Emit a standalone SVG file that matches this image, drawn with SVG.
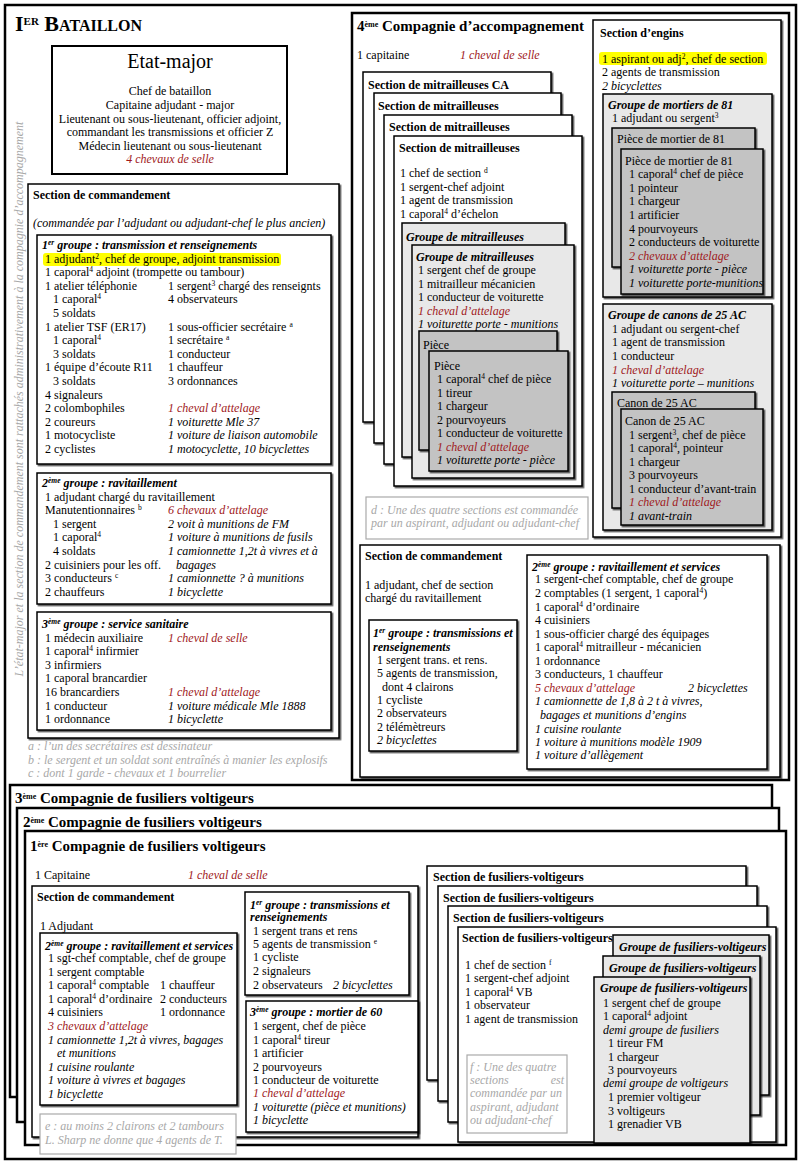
<svg xmlns="http://www.w3.org/2000/svg" width="800" height="1163" viewBox="0 0 800 1163">
<defs>
<filter id="sh" x="-5%" y="-5%" width="115%" height="115%"><feDropShadow dx="1.5" dy="1.5" stdDeviation="0.5" flood-color="#000" flood-opacity="0.65"/></filter>
<style>
text{font-family:"Liberation Serif","Times New Roman",serif;font-size:12px;fill:#000}
.i{font-style:italic}
.r{font-style:italic;fill:#a0191c}
.b{font-weight:bold}
.bi{font-weight:bold;font-style:italic}
.n{font-style:italic;fill:#a8a8a8}
.s{font-size:7.5px;baseline-shift:super}
.h16{font-size:15px;font-weight:bold}
.box{fill:#fff;stroke:#000;stroke-width:1.5;filter:url(#sh)}
.lg{fill:#e8e8e8;stroke:#000;stroke-width:1.5;filter:url(#sh)}
.dg{fill:#c3c3c3;stroke:#000;stroke-width:1.5;filter:url(#sh)}
.big{fill:#fff;stroke:#000;stroke-width:2.5}
.note{fill:#fff;stroke:#aaa;stroke-width:1.2}
.hl{fill:#ffff00}
</style>
</defs>
<rect width="800" height="1163" fill="#fff"/>

<g id="bataillon">
<rect class="big" x="5" y="5" width="791" height="1154"/>
<text x="15" y="31" class="b" style="font-size:22px">I<tspan style="font-size:11px" baseline-shift="super">ER</tspan> B<tspan style="font-size:16px">ATAILLON</tspan></text>
<text class="n" transform="translate(23,399) rotate(-90)" text-anchor="middle">L’état-major et la section de commandement sont rattachés administrativement à la compagnie d’accompagnement</text>
</g>

<g id="etat-major">
<rect x="52" y="46" width="235" height="128" fill="#fff" stroke="#000" stroke-width="2"/>
<g text-anchor="middle">
<text x="170" y="68" style="font-size:20px">Etat-major</text>
<text x="170" y="95">Chef de bataillon</text>
<text x="170" y="109">Capitaine adjudant - major</text>
<text x="170" y="123">Lieutenant ou sous-lieutenant, officier adjoint,</text>
<text x="170" y="136">commandant les transmissions et officier Z</text>
<text x="170" y="150">Médecin lieutenant ou sous-lieutenant</text>
<text x="170" y="163" class="r">4 chevaux de selle</text>
</g>
</g>

<g id="section-commandement-bat">
<rect class="box" x="28" y="184" width="311" height="554"/>
<text x="33" y="199" class="b">Section de commandement</text>
<text x="33" y="227" class="i">(commandée par l’adjudant ou adjudant-chef le plus ancien)</text>
</g>

<g id="groupe1-transmission">
<rect class="box" x="37" y="235" width="294" height="229"/>
<rect class="hl" x="43" y="253" width="238" height="13" rx="3"/>
<text x="42" y="249" class="bi">1<tspan class="s">er</tspan> groupe : transmission et renseignements</text>
<text x="45" y="263">1 adjudant<tspan class="s">2</tspan>, chef de groupe, adjoint transmission</text>
<text x="45" y="276">1 caporal<tspan class="s">4</tspan> adjoint (trompette ou tambour)</text>
<text x="45" y="290">1 atelier téléphonie</text><text x="168" y="290">1 sergent<tspan class="s">3</tspan> chargé des renseignts</text>
<text x="53" y="303">1 caporal<tspan class="s">4</tspan></text><text x="168" y="303">4 observateurs</text>
<text x="53" y="317">5 soldats</text>
<text x="45" y="331">1 atelier TSF (ER17)</text><text x="168" y="331">1 sous-officier secrétaire <tspan class="s">a</tspan></text>
<text x="53" y="344">1 caporal<tspan class="s">4</tspan></text><text x="168" y="344">1 secrétaire <tspan class="s">a</tspan></text>
<text x="53" y="358">3 soldats</text><text x="168" y="358">1 conducteur</text>
<text x="45" y="371">1 équipe d’écoute R11</text><text x="168" y="371">1 chauffeur</text>
<text x="53" y="385">3 soldats</text><text x="168" y="385">3 ordonnances</text>
<text x="45" y="399">4 signaleurs</text>
<text x="45" y="412">2 colombophiles</text><text x="168" y="412" class="r">1 cheval d’attelage</text>
<text x="45" y="426">2 coureurs</text><text x="168" y="426" class="i">1 voiturette Mle 37</text>
<text x="45" y="439">1 motocycliste</text><text x="168" y="439" class="i">1 voiture de liaison automobile</text>
<text x="45" y="453">2 cyclistes</text><text x="168" y="453" class="i">1 motocyclette, 10 bicyclettes</text>
</g>

<g id="groupe2-ravitaillement">
<rect class="box" x="37" y="473" width="294" height="131"/>
<text x="42" y="487" class="bi">2<tspan class="s">ème</tspan> groupe : ravitaillement</text>
<text x="45" y="501">1 adjudant chargé du ravitaillement</text>
<text x="45" y="514">Manutentionnaires <tspan class="s">b</tspan></text><text x="168" y="514" class="r">6 chevaux d’attelage</text>
<text x="53" y="528">1 sergent</text><text x="168" y="528" class="i">2 voit à munitions de FM</text>
<text x="53" y="541">1 caporal<tspan class="s">4</tspan></text><text x="168" y="541" class="i">1 voiture à munitions de fusils</text>
<text x="53" y="555">4 soldats</text><text x="168" y="555" class="i">1 camionnette 1,2t à vivres et à</text>
<text x="45" y="569">2 cuisiniers pour les off.</text><text x="176" y="569" class="i">bagages</text>
<text x="45" y="582">3 conducteurs <tspan class="s">c</tspan></text><text x="168" y="582" class="i">1 camionnette ? à munitions</text>
<text x="45" y="596">2 chauffeurs</text><text x="168" y="596" class="i">1 bicyclette</text>
</g>

<g id="groupe3-sanitaire">
<rect class="box" x="37" y="612" width="294" height="118"/>
<text x="42" y="628" class="bi">3<tspan class="s">ème</tspan> groupe : service sanitaire</text>
<text x="45" y="642">1 médecin auxiliaire</text><text x="168" y="642" class="r">1 cheval de selle</text>
<text x="45" y="655">1 caporal<tspan class="s">4</tspan> infirmier</text>
<text x="45" y="669">3 infirmiers</text>
<text x="45" y="682">1 caporal brancardier</text>
<text x="45" y="696">16 brancardiers</text><text x="168" y="696" class="r">1 cheval d’attelage</text>
<text x="45" y="710">1 conducteur</text><text x="168" y="710" class="i">1 voiture médicale Mle 1888</text>
<text x="45" y="723">1 ordonnance</text><text x="168" y="723" class="i">1 bicyclette</text>
</g>

<g id="notes-abc">
<text x="28" y="750" class="n">a : l’un des secrétaires est dessinateur</text>
<text x="28" y="764" class="n">b : le sergent et un soldat sont entraînés à manier les explosifs</text>
<text x="28" y="777" class="n">c : dont 1 garde - chevaux et 1 bourrelier</text>
</g>

<g id="compagnie-accompagnement">
<rect class="big" x="352" y="13" width="437" height="767"/>
<text x="357" y="31" class="h16">4<tspan style="font-size:8px" baseline-shift="super">ème</tspan> Compagnie d’accompagnement</text>
<text x="357" y="59">1 capitaine</text><text x="460" y="59" class="r">1 cheval de selle</text>
</g>

<g id="section-mitrailleuses-ca">
<rect class="box" x="363" y="72" width="188" height="350"/>
<text x="368" y="89" class="b">Section de mitrailleuses CA</text>
</g>
<g id="section-mitrailleuses-2">
<rect class="box" x="374" y="93" width="187" height="350"/>
<text x="378" y="110" class="b">Section de mitrailleuses</text>
</g>
<g id="section-mitrailleuses-3">
<rect class="box" x="384" y="115" width="188" height="349"/>
<text x="389" y="131" class="b">Section de mitrailleuses</text>
</g>
<g id="section-mitrailleuses-4">
<rect class="box" x="394" y="136" width="188" height="350"/>
<text x="399" y="152" class="b">Section de mitrailleuses</text>
<text x="400" y="177">1 chef de section <tspan class="s">d</tspan></text>
<text x="400" y="191">1 sergent-chef adjoint</text>
<text x="400" y="204">1 agent de transmission</text>
<text x="400" y="218">1 caporal<tspan class="s">4</tspan> d’échelon</text>
</g>
<g id="groupe-mitrailleuses-1">
<rect class="lg" x="402" y="223" width="163" height="234"/>
<text x="406" y="241" class="bi">Groupe de mitrailleuses</text>
</g>
<g id="groupe-mitrailleuses-2">
<rect class="lg" x="412" y="245" width="162" height="233"/>
<text x="416" y="261" class="bi">Groupe de mitrailleuses</text>
<text x="418" y="274">1 sergent chef de  groupe</text>
<text x="418" y="288">1 mitrailleur mécanicien</text>
<text x="418" y="301">1 conducteur de voiturette</text>
<text x="418" y="315" class="r">1 cheval d’attelage</text>
<text x="418" y="328" class="i">1 voiturette porte - munitions</text>
</g>
<g id="piece-mit-1">
<rect class="dg" x="419" y="331" width="138" height="119"/>
<text x="423" y="349">Pièce</text>
</g>
<g id="piece-mit-2">
<rect class="dg" x="429" y="351" width="139" height="120"/>
<text x="434" y="370">Pièce</text>
<text x="437" y="383">1 caporal<tspan class="s">4</tspan> chef de pièce</text>
<text x="437" y="397">1 tireur</text>
<text x="437" y="410">1 chargeur</text>
<text x="437" y="424">2 pourvoyeurs</text>
<text x="437" y="437">1 conducteur de voiturette</text>
<text x="437" y="451" class="r">1 cheval d’attelage</text>
<text x="437" y="464" class="i">1 voiturette porte - pièce</text>
</g>
<g id="note-d">
<rect class="note" x="366" y="497" width="222" height="42"/>
<text x="371" y="514" class="n">d : Une des quatre sections est commandée</text>
<text x="371" y="527" class="n">par un aspirant, adjudant ou adjudant-chef</text>
</g>

<g id="section-engins">
<rect class="box" x="593" y="20" width="188" height="517"/>
<text x="600" y="37" class="b">Section d’engins</text>
<rect class="hl" x="599" y="52" width="168" height="13" rx="3"/>
<text x="602" y="63">1 aspirant ou adj<tspan class="s">2</tspan>, chef de section</text>
<text x="602" y="76">2 agents de transmission</text>
<text x="602" y="90" class="i">2 bicyclettes</text>
</g>
<g id="groupe-mortiers-81">
<rect class="lg" x="603" y="94" width="169" height="203"/>
<text x="608" y="109" class="bi">Groupe de mortiers de 81</text>
<text x="612" y="122">1 adjudant ou sergent<tspan class="s">3</tspan></text>
</g>
<g id="piece-mortier-1">
<rect class="dg" x="612" y="128" width="143" height="139"/>
<text x="617" y="143">Pièce de mortier de 81</text>
</g>
<g id="piece-mortier-2">
<rect class="dg" x="621" y="149" width="142" height="145"/>
<text x="625" y="165">Pièce de mortier de 81</text>
<text x="629" y="178">1 caporal<tspan class="s">4</tspan> chef de pièce</text>
<text x="629" y="192">1 pointeur</text>
<text x="629" y="205">1 chargeur</text>
<text x="629" y="219">1 artificier</text>
<text x="629" y="233">4 pourvoyeurs</text>
<text x="629" y="246">2 conducteurs de voiturette</text>
<text x="629" y="260" class="r">2 chevaux d’attelage</text>
<text x="629" y="273" class="i">1 voiturette porte - pièce</text>
<text x="629" y="287" class="i">1 voiturette porte-munitions</text>
</g>
<g id="groupe-canons-25">
<rect class="lg" x="603" y="304" width="169" height="226"/>
<text x="608" y="319" class="bi">Groupe de canons de 25 AC</text>
<text x="612" y="333">1 adjudant ou sergent-chef</text>
<text x="612" y="346">1 agent de transmission</text>
<text x="612" y="360">1 conducteur</text>
<text x="612" y="374" class="r">1 cheval d’attelage</text>
<text x="612" y="387" class="i">1 voiturette porte – munitions</text>
</g>
<g id="canon-1">
<rect class="dg" x="612" y="392" width="143" height="116"/>
<text x="617" y="407">Canon de 25 AC</text>
</g>
<g id="canon-2">
<rect class="dg" x="621" y="409" width="142" height="116"/>
<text x="625" y="425">Canon de 25 AC</text>
<text x="629" y="439">1 sergent<tspan class="s">3</tspan>, chef de pièce</text>
<text x="629" y="452">1 caporal<tspan class="s">4</tspan>, pointeur</text>
<text x="629" y="466">1 chargeur</text>
<text x="629" y="479">3 pourvoyeurs</text>
<text x="629" y="493">1 conducteur d’avant-train</text>
<text x="629" y="506" class="r">1 cheval d’attelage</text>
<text x="629" y="520" class="i">1 avant-train</text>
</g>

<g id="section-commandement-ca">
<rect class="box" x="360" y="545" width="420" height="232"/>
<text x="365" y="560" class="b">Section de commandement</text>
<text x="365" y="589">1 adjudant, chef de section</text>
<text x="365" y="602">chargé du ravitaillement</text>
</g>
<g id="groupe1-ca">
<rect class="box" x="369" y="620" width="148" height="131"/>
<text x="373" y="637" class="bi">1<tspan class="s">er</tspan> groupe : transmissions et</text>
<text x="373" y="651" class="bi">renseignements</text>
<text x="377" y="664">1 sergent trans. et rens.</text>
<text x="377" y="677">5 agents de transmission,</text>
<text x="382" y="691">dont 4 clairons</text>
<text x="377" y="704">1 cycliste</text>
<text x="377" y="717">2 observateurs</text>
<text x="377" y="731">2 télémètreurs</text>
<text x="377" y="744" class="i">2 bicyclettes</text>
</g>
<g id="groupe2-ca">
<rect class="box" x="527" y="555" width="240" height="214"/>
<text x="532" y="571" class="bi">2<tspan class="s">ème</tspan> groupe : ravitaillement et  services</text>
<text x="535" y="583">1 sergent-chef comptable, chef de groupe</text>
<text x="535" y="597">2 comptables (1 sergent, 1 caporal<tspan class="s">4</tspan>)</text>
<text x="535" y="611">1 caporal<tspan class="s">4</tspan> d’ordinaire</text>
<text x="535" y="624">4 cuisiniers</text>
<text x="535" y="638">1 sous-officier chargé des équipages</text>
<text x="535" y="651">1 caporal<tspan class="s">4</tspan> mitrailleur - mécanicien</text>
<text x="535" y="665">1 ordonnance</text>
<text x="535" y="678">3 conducteurs, 1 chauffeur</text>
<text x="535" y="692" class="r">5  chevaux d’attelage</text><text x="688" y="692" class="i">2 bicyclettes</text>
<text x="535" y="705" class="i">1 camionnette de 1,8 à 2 t à vivres,</text>
<text x="540" y="719" class="i">bagages et munitions d’engins</text>
<text x="535" y="733" class="i">1 cuisine roulante</text>
<text x="535" y="746" class="i">1 voiture à munitions modèle 1909</text>
<text x="535" y="759" class="i">1 voiture d’allègement</text>
</g>

<g id="compagnie-fv-3">
<rect class="big" x="10" y="785" width="762" height="312"/>
<text x="15" y="803" class="h16">3<tspan style="font-size:8px" baseline-shift="super">ème</tspan> Compagnie de fusiliers voltigeurs</text>
</g>
<g id="compagnie-fv-2">
<rect class="big" x="17" y="808" width="762" height="314"/>
<text x="23" y="827" class="h16">2<tspan style="font-size:8px" baseline-shift="super">ème</tspan> Compagnie de fusiliers voltigeurs</text>
</g>
<g id="compagnie-fv-1">
<rect class="big" x="25" y="831" width="761" height="314"/>
<text x="30" y="851" class="h16">1<tspan style="font-size:8px" baseline-shift="super">ère</tspan> Compagnie de fusiliers voltigeurs</text>
<text x="35" y="879">1 Capitaine</text><text x="188" y="879" class="r">1 cheval de selle</text>
</g>

<g id="section-commandement-fv">
<rect class="box" x="32" y="886" width="386" height="251"/>
<text x="37" y="901" class="b">Section de commandement</text>
<text x="40" y="930">1 Adjudant</text>
</g>
<g id="groupe2-fv">
<rect class="box" x="40" y="933" width="197" height="172"/>
<text x="45" y="950" class="bi">2<tspan class="s">ème</tspan> groupe : ravitaillement et services</text>
<text x="48" y="962">1 sgt-chef comptable, chef de groupe</text>
<text x="48" y="976">1 sergent comptable</text>
<text x="48" y="989">1 caporal<tspan class="s">4</tspan> comptable</text><text x="160" y="989">1 chauffeur</text>
<text x="48" y="1003">1 caporal<tspan class="s">4</tspan> d’ordinaire</text><text x="160" y="1003">2 conducteurs</text>
<text x="48" y="1016">4 cuisiniers</text><text x="160" y="1016">1 ordonnance</text>
<text x="48" y="1030" class="r">3 chevaux d’attelage</text>
<text x="48" y="1044" class="i">1 camionnette 1,2t à vivres, bagages</text>
<text x="57" y="1057" class="i">et munitions</text>
<text x="48" y="1071" class="i">1 cuisine roulante</text>
<text x="48" y="1084" class="i">1 voiture à vivres et bagages</text>
<text x="48" y="1098" class="i">1 bicyclette</text>
</g>
<g id="note-e">
<rect class="note" x="40" y="1114" width="196" height="40"/>
<text x="45" y="1130" class="n">e : au moins 2 clairons et 2 tambours</text>
<text x="45" y="1144" class="n">L. Sharp ne donne que 4 agents de T.</text>
</g>
<g id="groupe1-fv">
<rect class="box" x="245" y="892" width="164" height="103"/>
<text x="250" y="909" class="bi">1<tspan class="s">er</tspan> groupe : transmissions et</text>
<text x="250" y="921" class="bi">renseignements</text>
<text x="253" y="935">1 sergent trans et rens</text>
<text x="253" y="948">5 agents de transmission <tspan class="s">e</tspan></text>
<text x="253" y="961">1 cycliste</text>
<text x="253" y="975">2 signaleurs</text>
<text x="253" y="989">2 observateurs</text><text x="333" y="989" class="i">2 bicyclettes</text>
</g>
<g id="groupe3-mortier-60">
<rect class="box" x="246" y="1001" width="172" height="131"/>
<text x="250" y="1016" class="bi">3<tspan class="s">ème</tspan> groupe : mortier de 60</text>
<text x="253" y="1030">1 sergent, chef de pièce</text>
<text x="253" y="1044">1 caporal<tspan class="s">4</tspan> tireur</text>
<text x="253" y="1057">1 artificier</text>
<text x="253" y="1071">2 pourvoyeurs</text>
<text x="253" y="1084">1 conducteur de voiturette</text>
<text x="253" y="1097" class="r">1 cheval d’attelage</text>
<text x="253" y="1111" class="i">1 voiturette (pièce et munitions)</text>
<text x="253" y="1124" class="i">1 bicyclette</text>
</g>

<g id="section-fv-1">
<rect class="box" x="427" y="866" width="319" height="214"/>
<text x="433" y="881" class="b">Section de fusiliers-voltigeurs</text>
</g>
<g id="section-fv-2">
<rect class="box" x="438" y="886" width="319" height="215"/>
<text x="443" y="902" class="b">Section de fusiliers-voltigeurs</text>
</g>
<g id="section-fv-3">
<rect class="box" x="448" y="906" width="319" height="216"/>
<text x="453" y="922" class="b">Section de fusiliers-voltigeurs</text>
</g>
<g id="section-fv-4">
<rect class="box" x="458" y="927" width="318" height="215"/>
<text x="462" y="942" class="b">Section de fusiliers-voltigeurs</text>
<text x="465" y="969">1 chef de section <tspan class="s">f</tspan></text>
<text x="465" y="982">1 sergent-chef adjoint</text>
<text x="465" y="996">1 caporal<tspan class="s">4</tspan> VB</text>
<text x="465" y="1009">1 observateur</text>
<text x="465" y="1023">1 agent de transmission</text>
</g>
<g id="note-f">
<rect class="note" x="467" y="1055" width="100" height="78"/>
<text x="470" y="1071" class="n">f : Une des quatre</text>
<text x="470" y="1084" class="n">sections</text><text x="564" y="1084" class="n" text-anchor="end">est</text>
<text x="470" y="1097" class="n">commandée par un</text>
<text x="470" y="1111" class="n">aspirant, adjudant</text>
<text x="470" y="1124" class="n">ou adjudant-chef</text>
</g>
<g id="groupe-fv-1">
<rect class="lg" x="613" y="935" width="156" height="160"/>
<text x="619" y="951" class="bi">Groupe de fusiliers-voltigeurs</text>
</g>
<g id="groupe-fv-2">
<rect class="lg" x="603" y="956" width="157" height="159"/>
<text x="609" y="972" class="bi">Groupe de fusiliers-voltigeurs</text>
</g>
<g id="groupe-fv-3">
<rect class="lg" x="594" y="977" width="156" height="166"/>
<text x="600" y="992" class="bi">Groupe de fusiliers-voltigeurs</text>
<text x="603" y="1007">1 sergent chef de groupe</text>
<text x="603" y="1020">1 caporal<tspan class="s">4</tspan> adjoint</text>
<text x="603" y="1034" class="i">demi groupe de fusiliers</text>
<text x="608" y="1047">1 tireur FM</text>
<text x="608" y="1061">1 chargeur</text>
<text x="608" y="1074">3 pourvoyeurs</text>
<text x="603" y="1087" class="i">demi groupe de voltigeurs</text>
<text x="608" y="1101">1 premier voltigeur</text>
<text x="608" y="1115">3 voltigeurs</text>
<text x="608" y="1128">1 grenadier VB</text>
</g>
</svg>
